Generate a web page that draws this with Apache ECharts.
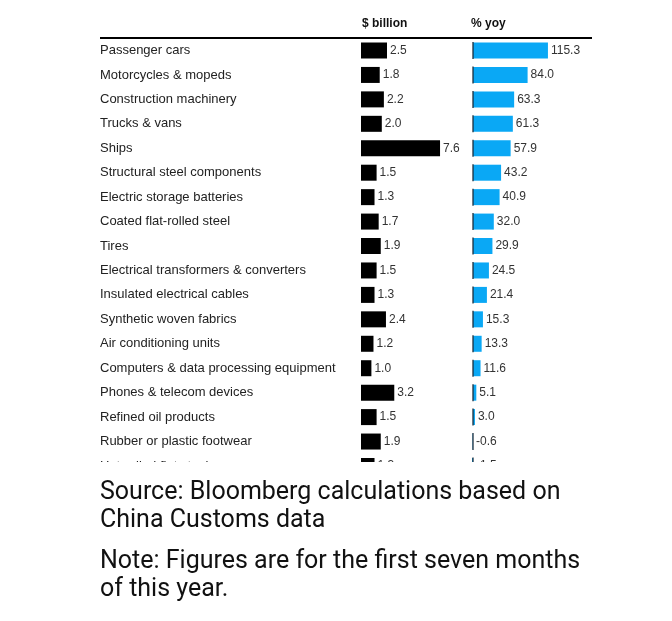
<!DOCTYPE html>
<html>
<head>
<meta charset="utf-8">
<script src="https://cdn.jsdelivr.net/npm/echarts@6/dist/echarts.min.js"></script>
<style>html,body{margin:0;padding:0;background:#fff;}#chart{width:672px;height:621px;}</style>
</head>
<body>
<div id="chart"></div>
<script>
const categories = ["Passenger cars","Motorcycles & mopeds","Construction machinery","Trucks & vans","Ships","Structural steel components","Electric storage batteries","Coated flat-rolled steel","Tires","Electrical transformers & converters","Insulated electrical cables","Synthetic woven fabrics","Air conditioning units","Computers & data processing equipment","Phones & telecom devices","Refined oil products","Rubber or plastic footwear","Hot-rolled flat steel"];
const billions = [2.5,1.8,2.2,2.0,7.6,1.5,1.3,1.7,1.9,1.5,1.3,2.4,1.2,1.0,3.2,1.5,1.9,1.3];
const yoy = [115.3,84.0,63.3,61.3,57.9,43.2,40.9,32.0,29.9,24.5,21.4,15.3,13.3,11.6,5.1,3.0,-0.6,-1.5];
const headers = ["$ billion","% yoy"];
const sourceText = "Source: Bloomberg calculations based on\nChina Customs data";
const noteText = "Note: Figures are for the first seven months\nof this year.";

const chart = echarts.init(document.getElementById('chart'));
const font = '"Liberation Sans", Arial, sans-serif';
const pitch = 24.44;
const gridTop = 50.5 - pitch/2;
const gridH = pitch * categories.length;
const labelStyle = {show:true, position:'right', distance:3, fontSize:12, color:'#333', fontFamily:font, formatter: p => p.value.toFixed(1)};
chart.setOption({
  animation:false,
  grid:[
    {left:361, top:gridTop, width:104, height:gridH},
    {left:466.5, top:gridTop, width:84.5, height:gridH}
  ],
  xAxis:[
    {gridIndex:0, type:'value', min:0, max:10, show:false},
    {gridIndex:1, type:'value', min:-10, max:120, show:false}
  ],
  yAxis:[
    {gridIndex:0, type:'category', data:categories, inverse:true, axisLine:{show:false}, axisTick:{show:false},
     axisLabel:{align:'left', margin:261, fontSize:13, color:'#222', fontFamily:font}},
    {gridIndex:1, type:'category', data:categories, inverse:true, show:false}
  ],
  series:[
    {type:'bar', xAxisIndex:0, yAxisIndex:0, data:billions, barWidth:16, itemStyle:{color:'#000'}, label:labelStyle},
    {type:'bar', xAxisIndex:1, yAxisIndex:1, data:yoy, barWidth:16, itemStyle:{color:'#0aa8f5'}, label:labelStyle},
    {type:'scatter', xAxisIndex:1, yAxisIndex:1, data:yoy.map(()=>0), symbol:'rect', symbolSize:[1.6,17], itemStyle:{color:'#1a2a3a'}, z:5, silent:true}
  ],
  graphic:[
    {type:'line', shape:{x1:100, y1:38, x2:592, y2:38}, style:{stroke:'#000', lineWidth:2}, z:10},
    {type:'text', x:362, y:24, style:{text:headers[0], font:'bold 12px ' + font, fill:'#111', textVerticalAlign:'middle'}, z:10},
    {type:'text', x:471, y:24, style:{text:headers[1], font:'bold 12px ' + font, fill:'#111', textVerticalAlign:'middle'}, z:10},
    {type:'rect', shape:{x:0, y:462, width:672, height:159}, style:{fill:'#fff'}, z:100},
    {type:'text', x:100, y:478, style:{text:sourceText, font:'25px Roboto', lineHeight:28.5, fill:'#111', textVerticalAlign:'top'}, z:101},
    {type:'text', x:100, y:547, style:{text:noteText, font:'25px Roboto', lineHeight:28.5, fill:'#111', textVerticalAlign:'top'}, z:101}
  ]
});
</script>
</body>
</html>
